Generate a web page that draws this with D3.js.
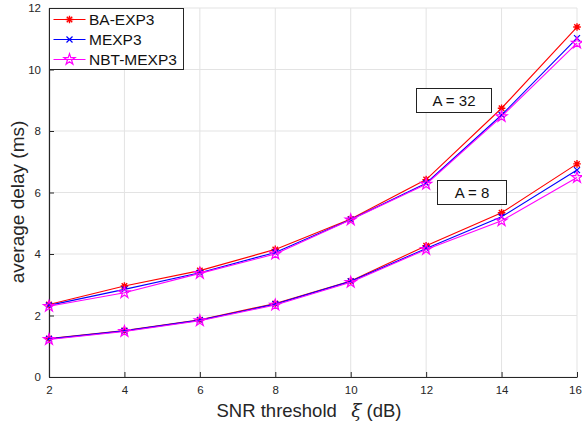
<!DOCTYPE html>
<html>
<head>
<meta charset="utf-8">
<script src="https://cdn.jsdelivr.net/npm/d3@7"></script>
<style>
	body { margin: 0; background: #fff; }
	text { font-family: "Liberation Sans", Arial, sans-serif; }
</style>
</head>
<body>
<svg id="chart" width="582" height="423"></svg>
<script>
// data
var snr = [2, 4, 6, 8, 10, 12, 14, 16];
var xTicks = [2, 4, 6, 8, 10, 12, 14, 16];
var yTicks = [0, 2, 4, 6, 8, 10, 12];

var baExp3A32   = [2.36, 2.96, 3.46, 4.15, 5.14, 6.42, 8.74, 11.38];
var mexp3A32    = [2.33, 2.85, 3.39, 4.05, 5.12, 6.30, 8.52, 11.02];
var nbtMexp3A32 = [2.30, 2.74, 3.37, 4.00, 5.11, 6.27, 8.47, 10.86];

var baExp3A8    = [1.25, 1.51, 1.86, 2.39, 3.12, 4.27, 5.34, 6.93];
var mexp3A8     = [1.24, 1.50, 1.85, 2.37, 3.11, 4.18, 5.21, 6.73];
var nbtMexp3A8  = [1.22, 1.48, 1.83, 2.34, 3.08, 4.15, 5.08, 6.49];

var seriesNames = ["BA-EXP3", "MEXP3", "NBT-MEXP3"];
var seriesColors = ["#ff0000", "#0000ff", "#ff00ff"];
var seriesMarks = ["asterisk", "cross", "star"];

var series = [
	{ name: seriesNames[0], values: baExp3A32 },
	{ name: seriesNames[1], values: mexp3A32 },
	{ name: seriesNames[2], values: nbtMexp3A32 },
	{ name: seriesNames[0], values: baExp3A8 },
	{ name: seriesNames[1], values: mexp3A8 },
	{ name: seriesNames[2], values: nbtMexp3A8 }
];

(function() {
	var svg = d3.select("#chart"),
		pL = 49, pR = 577, pT = 8, pB = 377,
		axisColor = "#262626", gridColor = "#e3e3e3";

	var x = d3.scaleLinear().domain([2, 16]).range([pL, pR]);
	var y = d3.scaleLinear().domain([0, 12]).range([pB, pT]);

	function styleOf(name) {
		var i = seriesNames.indexOf(name);
		return { color: seriesColors[i], mark: seriesMarks[i] };
	}

	// marker drawing, MATLAB-like
	function drawMark(g, kind, color) {
		if (kind == "asterisk") {
			var r = 3.8, d = r * 0.72;
			g.append("path").attr("d", "M" + (-r) + ",0L" + r + ",0M0," + (-r) + "L0," + r +
				"M" + (-d) + "," + (-d) + "L" + d + "," + d + "M" + (-d) + "," + d + "L" + d + "," + (-d))
				.attr("stroke", color).attr("stroke-width", 1.4).attr("fill", "none");
		} else if (kind == "cross") {
			var c = 3;
			g.append("path").attr("d", "M" + (-c) + "," + (-c) + "L" + c + "," + c + "M" + (-c) + "," + c + "L" + c + "," + (-c))
				.attr("stroke", color).attr("stroke-width", 1.2).attr("fill", "none");
		} else {
			g.append("path").attr("d", d3.symbol(d3.symbolStar, 38)())
				.attr("stroke", color).attr("stroke-width", 1.2).attr("fill", "none");
		}
	}

	// grid
	var grid = svg.append("g").attr("class", "grid");
	grid.selectAll("line.gx").data(xTicks).enter().append("line")
		.attr("x1", function(d) { return x(d); }).attr("x2", function(d) { return x(d); })
		.attr("y1", pT).attr("y2", pB)
		.attr("stroke", gridColor).attr("stroke-width", 1);
	grid.selectAll("line.gy").data(yTicks).enter().append("line")
		.attr("y1", function(d) { return y(d); }).attr("y2", function(d) { return y(d); })
		.attr("x1", pL).attr("x2", pR)
		.attr("stroke", gridColor).attr("stroke-width", 1);

	// axes (ticks point inward)
	var xAxis = svg.append("g").attr("transform", "translate(0," + pB + ")")
		.call(d3.axisBottom(x).tickValues(xTicks).tickSizeInner(-5).tickSizeOuter(0).tickPadding(9));
	var yAxis = svg.append("g").attr("transform", "translate(" + pL + ",0)")
		.call(d3.axisLeft(y).tickValues(yTicks).tickSizeInner(-5).tickSizeOuter(0).tickPadding(8));
	[xAxis, yAxis].forEach(function(a) {
		a.select(".domain").attr("stroke", axisColor).attr("stroke-width", 1.2);
		a.selectAll(".tick line").attr("stroke", axisColor);
		a.selectAll(".tick text").attr("fill", axisColor)
			.style("font-family", "'Liberation Sans', Arial, sans-serif").style("font-size", "11.5px");
	});
	// last x label sits at the window edge
	xAxis.selectAll(".tick text").filter(function(d) { return d == 16; }).attr("dx", "-2");

	// lines and markers
	var line = d3.line()
		.x(function(d, i) { return x(snr[i]); })
		.y(function(d) { return y(d); });

	var plot = svg.append("g");
	series.forEach(function(s) {
		var st = styleOf(s.name);
		plot.append("path").datum(s.values).attr("d", line)
			.attr("fill", "none").attr("stroke", st.color).attr("stroke-width", 1.1);
		s.values.forEach(function(v, i) {
			var g = plot.append("g").attr("transform", "translate(" + x(snr[i]) + "," + y(v) + ")");
			drawMark(g, st.mark, st.color);
		});
	});

	// annotations
	function note(txt, x0, y0, w, h) {
		var g = svg.append("g").attr("transform", "translate(" + x0 + "," + y0 + ")");
		g.append("rect").attr("width", w).attr("height", h)
			.attr("fill", "#fff").attr("stroke", "#222").attr("stroke-width", 1);
		g.append("text").attr("x", w / 2).attr("y", h / 2 + 5.5)
			.attr("text-anchor", "middle").style("font-size", "15px").attr("fill", "#111").text(txt);
	}
	note("A = 32", 416.5, 88.5, 75, 24);
	note("A = 8", 437.5, 180.5, 69, 24);

	// legend
	var legend = svg.append("g").attr("transform", "translate(49.5,8.5)");
	legend.append("rect").attr("width", 134).attr("height", 61)
		.attr("fill", "#fff").attr("stroke", "#262626").attr("stroke-width", 1);
	seriesNames.forEach(function(n, i) {
		var st = styleOf(n), ly = 11 + i * 20;
		legend.append("line").attr("x1", 4).attr("x2", 36).attr("y1", ly).attr("y2", ly)
			.attr("stroke", st.color).attr("stroke-width", 1);
		drawMark(legend.append("g").attr("transform", "translate(20," + ly + ")"), st.mark, st.color);
		legend.append("text").attr("x", 39.5).attr("y", ly + 5.5)
			.style("font-size", "15.5px").attr("fill", "#111").text(n);
	});

	// axis titles
	svg.append("text").attr("x", 309).attr("y", 417).attr("text-anchor", "middle")
		.style("font-size", "18.5px").attr("fill", "#262626")
		.html("SNR threshold \u2002<tspan font-style='italic' font-family='DejaVu Serif, serif'>\u03be</tspan> (dB)");
	svg.append("text").attr("transform", "translate(24,202) rotate(-90)")
		.attr("text-anchor", "middle").style("font-size", "19px").attr("fill", "#262626")
		.text("average delay (ms)");
})();
</script>
</body>
</html>
